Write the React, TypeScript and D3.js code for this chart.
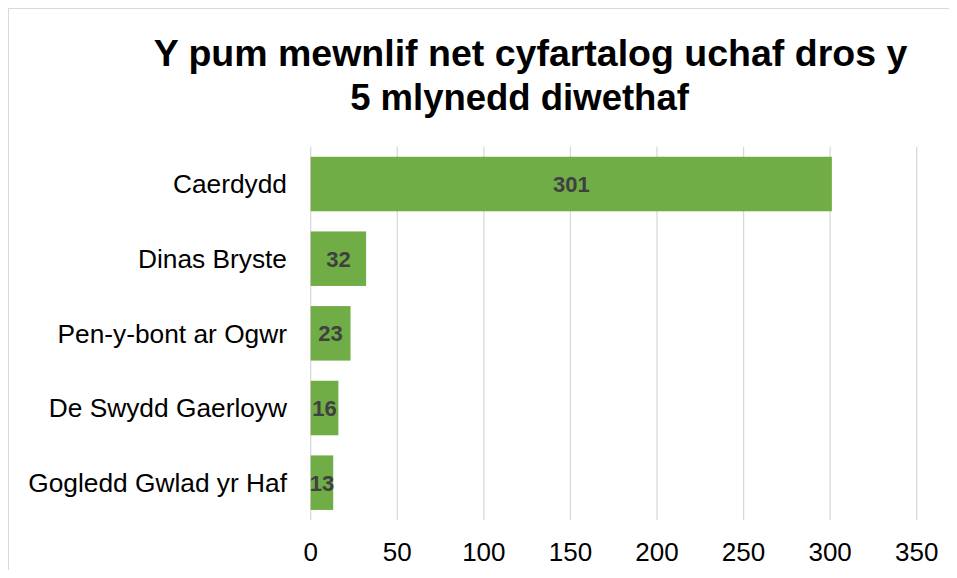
import React from "react";
import * as d3 from "d3";

const categories = ["Caerdydd", "Dinas Bryste", "Pen-y-bont ar Ogwr", "De Swydd Gaerloyw", "Gogledd Gwlad yr Haf"];
const values = [301, 32, 23, 16, 13];
const xTicks = [0, 50, 100, 150, 200, 250, 300, 350];
const titleLines = ["Y pum mewnlif net cyfartalog uchaf dros y", "5 mlynedd diwethaf"];

const W = 949;
const H = 562;
const FONT = "Arial, 'Liberation Sans', Helvetica, sans-serif";

export default function App() {
  const x = d3.scaleLinear().domain([0, 350]).range([302.7, 908.7]);
  const y = d3
    .scaleBand<string>()
    .domain(categories)
    .range([138.7, 512])
    .paddingInner(0.27)
    .paddingOuter(0.135);

  const titleX = [522.5, 511.5];
  const titleY = [58, 102];

  return (
    <svg width={W} height={H} style={{ display: "block" }}>
      <rect x={0} y={0} width={W} height={H} fill="#ffffff" />
      <line x1={0.5} x2={0.5} y1={0} y2={H} stroke="#d9d9d9" strokeWidth={1} />
      <line x1={0} x2={W} y1={0.5} y2={0.5} stroke="#d9d9d9" strokeWidth={1} />
      {titleLines.map((t, i) => (
        <text
          key={i}
          x={titleX[i]}
          y={titleY[i]}
          textAnchor="middle"
          fontFamily={FONT}
          fontWeight="bold"
          fontSize={i === 0 ? 37.5 : 36.5}
          fill="#000000"
        >
          {t}
        </text>
      ))}
      {xTicks.map((t) => (
        <g key={t}>
          <line x1={x(t)} x2={x(t)} y1={138.7} y2={512} stroke="#d9d9d9" strokeWidth={1.3} />
          <text x={x(t)} y={553} textAnchor="middle" fontFamily={FONT} fontSize={26} fill="#000000">
            {t}
          </text>
        </g>
      ))}
      {categories.map((c, i) => (
        <g key={c}>
          <rect x={x(0)} y={y(c)} width={x(values[i]) - x(0)} height={y.bandwidth()} fill="#70AD47" />
          <text
            x={279}
            y={(y(c) as number) + y.bandwidth() / 2}
            dy="0.35em"
            textAnchor="end"
            fontFamily={FONT}
            fontSize={26.3}
            fill="#000000"
          >
            {c}
          </text>
          <text
            x={(x(0) + x(values[i])) / 2}
            y={(y(c) as number) + y.bandwidth() / 2}
            dy="0.36em"
            textAnchor="middle"
            fontFamily={FONT}
            fontWeight="bold"
            fontSize={22}
            fill="#404040"
          >
            {values[i]}
          </text>
        </g>
      ))}
    </svg>
  );
}
